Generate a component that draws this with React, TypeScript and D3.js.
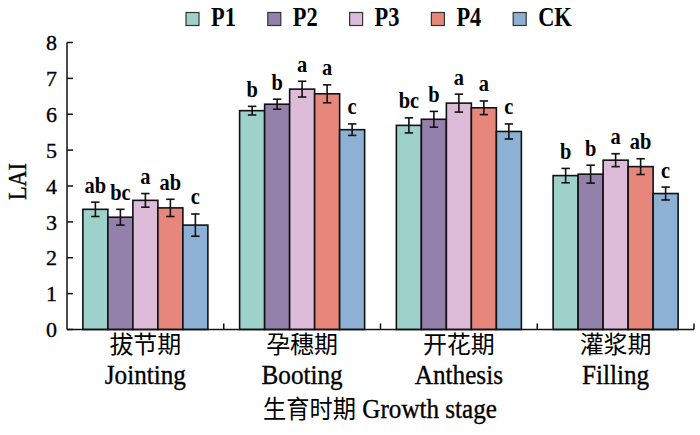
import * as d3 from 'd3';

const stagesCn = ['拔节期', '孕穗期', '开花期', '灌浆期'];
const stagesEn = ['Jointing', 'Booting', 'Anthesis', 'Filling'];
const series = ['P1', 'P2', 'P3', 'P4', 'CK'];
const colors = ['#9dd1c9', '#9381ac', '#ddbcda', '#e7877b', '#8cb1d4'];

// LAI per stage, one row per series
const means = [
  [3.35, 6.1, 5.69, 4.29],
  [3.13, 6.28, 5.86, 4.33],
  [3.6, 6.7, 6.31, 4.72],
  [3.39, 6.57, 6.18, 4.54],
  [2.91, 5.57, 5.52, 3.79],
];
const errors = [
  [0.2, 0.12, 0.21, 0.2],
  [0.22, 0.14, 0.22, 0.25],
  [0.19, 0.22, 0.25, 0.18],
  [0.24, 0.25, 0.19, 0.22],
  [0.31, 0.16, 0.21, 0.18],
];
const letters = [
  ['ab', 'b', 'bc', 'b'],
  ['bc', 'b', 'b', 'b'],
  ['a', 'a', 'a', 'a'],
  ['ab', 'a', 'a', 'ab'],
  ['c', 'c', 'c', 'c'],
];
const yTicks = [0, 1, 2, 3, 4, 5, 6, 7, 8];

const serif = 'Liberation Serif, DejaVu Serif, serif';
const cjk = 'Noto Sans CJK SC, sans-serif';

const left = 67;
const right = 694;
const top = 42.5;
const bottom = 329.5;

// the reference type is a bit heavier than plain Liberation Serif
const heavy = { stroke: '#000', strokeWidth: 0.35 };

export default function App() {
  const x0 = d3.scaleBand().domain(stagesEn).range([left, right]).paddingInner(0);
  const x1 = d3.scaleBand().domain(series).range([0, x0.bandwidth()]).paddingOuter(0.635);
  const y = d3.scaleLinear().domain([0, 8]).range([bottom, top]);

  return (
    <svg width={700} height={435} style={{ position: 'absolute', left: 0, top: 0, background: '#fff' }}>
      {/* legend */}
      {series.map((s, i) => {
        const lx = 186 + i * 81.8;
        return (
          <g key={s}>
            <rect x={lx} y={12.5} width={13} height={13} fill={colors[i]} stroke="#333" strokeWidth={1.2} />
            <text
              transform={`translate(${lx + 25},26) scale(0.83,1)`}
              style={{ fontFamily: serif, fontWeight: 'bold', fontSize: 27 }}
            >
              {s}
            </text>
          </g>
        );
      })}

      {/* bars */}
      {series.map((s, i) =>
        stagesEn.map((st, j) => {
          const bx = x0(st)! + x1(s)!;
          const v = means[i][j];
          const e = errors[i][j];
          const cx = bx + x1.bandwidth() / 2;
          return (
            <g key={s + st}>
              <rect
                x={bx}
                y={y(v)}
                width={x1.bandwidth()}
                height={y(0) - y(v)}
                fill={colors[i]}
                stroke="#111"
                strokeWidth={1.6}
              />
              <line x1={cx} x2={cx} y1={y(v + e)} y2={y(v - e)} stroke="#111" strokeWidth={1.6} />
              <line x1={cx - 4.2} x2={cx + 4.2} y1={y(v + e)} y2={y(v + e)} stroke="#111" strokeWidth={1.6} />
              <line x1={cx - 4.2} x2={cx + 4.2} y1={y(v - e)} y2={y(v - e)} stroke="#111" strokeWidth={1.6} />
              <text
                transform={`translate(${cx},${y(v + e) - 9.5}) scale(0.85,1)`}
                textAnchor="middle"
                style={{ fontFamily: serif, fontWeight: 'bold', fontSize: 24 }}
              >
                {letters[i][j]}
              </text>
            </g>
          );
        })
      )}

      {/* y axis */}
      <line x1={left} x2={left} y1={top} y2={bottom} stroke="#111" strokeWidth={1.5} />
      {yTicks.map((t) => (
        <g key={t}>
          <line x1={left} x2={left + 6} y1={y(t)} y2={y(t)} stroke="#111" strokeWidth={1.5} />
          <text x={57} y={y(t)} dy="0.35em" textAnchor="end" style={{ fontFamily: serif, fontSize: 22, ...heavy }}>
            {t}
          </text>
        </g>
      ))}

      {/* x axis */}
      <line x1={left} x2={right} y1={bottom} y2={bottom} stroke="#111" strokeWidth={1.5} />
      {stagesEn.map((st) => {
        const tx = x0(st)! + x0.bandwidth();
        return <line key={st} x1={tx} x2={tx} y1={bottom} y2={bottom - 6} stroke="#111" strokeWidth={1.5} />;
      })}
      {stagesEn.map((st, j) => {
        const cx = x0(st)! + x0.bandwidth() / 2;
        return (
          <g key={'lab' + st}>
            <text x={cx} y={353} textAnchor="middle" style={{ fontFamily: cjk, fontSize: 24 }}>
              {stagesCn[j]}
            </text>
            <text
              transform={`translate(${cx},384) scale(0.9,1)`}
              textAnchor="middle"
              style={{ fontFamily: serif, fontSize: 28, ...heavy }}
            >
              {st}
            </text>
          </g>
        );
      })}

      {/* axis titles */}
      <text transform="translate(380,418) scale(0.93,1)" textAnchor="middle" style={{ fontSize: 27 }}>
        <tspan style={{ fontFamily: cjk, fontSize: 25 }}>生育时期</tspan>
        <tspan style={{ fontFamily: serif, ...heavy }}> Growth stage</tspan>
      </text>
      <text
        transform="translate(26,181.5) rotate(-90) scale(0.89,1)"
        textAnchor="middle"
        style={{ fontFamily: serif, fontSize: 25, ...heavy }}
      >
        LAI
      </text>
    </svg>
  );
}
